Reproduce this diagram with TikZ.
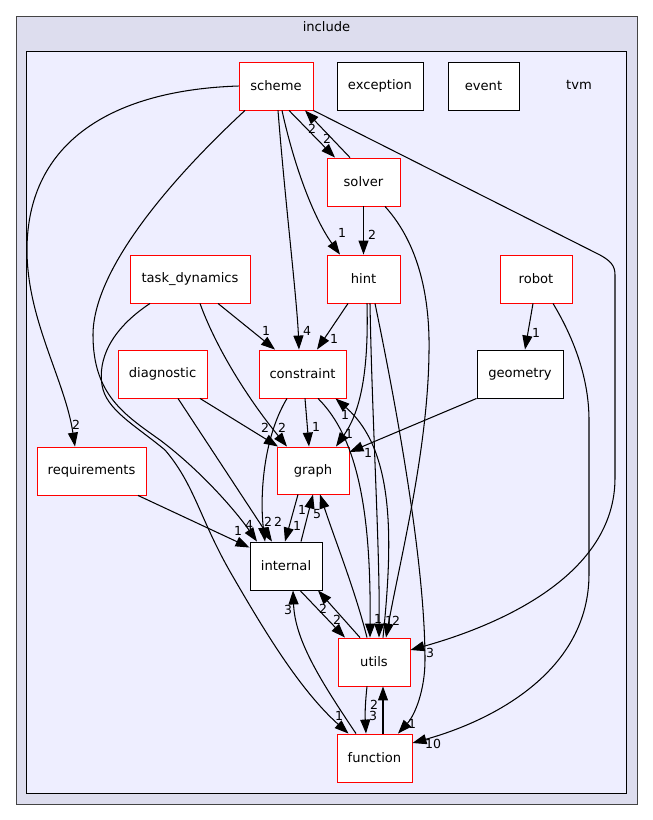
\documentclass[tikz,border=0pt]{standalone}
\usepackage{fontspec}
\setmainfont{DejaVu Sans}
\usetikzlibrary{arrows.meta}
\begin{document}
\begin{tikzpicture}[x=1pt,y=-1pt,
  box/.style={draw=red, fill=white, line width=0.9pt, minimum height=48pt,
    inner xsep=0pt, font=\fontsize{13.1}{15}\selectfont},
  plainbox/.style={box, draw=black},
  dep/.style={line width=1.05pt, -{Triangle[length=14pt,width=10pt]}},
  lbl/.style={inner sep=0pt, font=\fontsize{12.5}{13}\selectfont}]
\useasboundingbox (0,0) rectangle (653,820);

% directory frames
\draw[fill={rgb,255:red,221;green,221;blue,238}, draw={rgb,255:red,68;green,68;blue,68}, line width=1pt]
  (16,16) rectangle (637,804);
\node[font=\fontsize{13.1}{15}\selectfont] (incl) at (326.5,27) {include};
\draw[fill={rgb,255:red,238;green,238;blue,255}, draw=black, line width=1pt]
  (26,51) rectangle (626,793);
\node[font=\fontsize{13.1}{15}\selectfont] (tvm) at (579,85) {tvm};

% directories
\node[box, minimum width=74pt] (scheme) at (276,86) {scheme};
\node[plainbox, minimum width=86pt] (exception) at (380,86) {exception};
\node[plainbox, minimum width=71pt] (event) at (483.5,86) {event};
\node[box, minimum width=73pt] (solver) at (363.5,182) {solver};
\node[box, minimum width=73pt] (hint) at (363.5,279) {hint};
\node[box, minimum width=120pt] (task) at (190,279) {task\_dynamics};
\node[box, minimum width=72pt] (robot) at (536,279) {robot};
\node[box, minimum width=89pt] (diag) at (162.5,374) {diagnostic};
\node[box, minimum width=87pt] (constraint) at (302.5,374) {constraint};
\node[plainbox, minimum width=86pt] (geometry) at (520,374) {geometry};
\node[box, minimum width=109pt] (req) at (91.5,471) {requirements};
\node[box, minimum width=72pt, minimum height=47pt] (graph) at (313,470.5) {graph};
\node[plainbox, minimum width=72pt] (internal) at (286,566) {internal};
\node[box, minimum width=72pt] (utils) at (374,662) {utils};
\node[box, minimum width=75pt] (function) at (374.5,758) {function};

% dependencies
\draw[dep] (scheme.west) .. controls (115,90) and (27,140) .. (27,250)
  .. controls (27,320) and (65,380) .. ([xshift=-16.5pt]req.north);
\node[lbl] (l1) at (76,425) {2};

\draw[dep] ([xshift=-31pt]scheme.south) .. controls (170,180) and (93,270) .. (93,335)
  .. controls (93,395) and (125,415) .. (160,440)
  .. controls (200,470) and (235,510) .. ([xshift=-29pt]internal.north);
\node[lbl] (l2) at (249,525) {4};

\draw[dep] ([xshift=-40pt]task.south) .. controls (110,330) and (98,360) .. (102,385)
  .. controls (106,410) and (135,425) .. (165,450)
  .. controls (195,485) and (200,520) .. (232,575)
  .. controls (265,632) and (300,690) .. ([xshift=-26pt]function.north);
\node[lbl] (l3) at (339,716) {1};

\draw[dep] ([xshift=13pt]scheme.south) -- ([xshift=-28.5pt]solver.north);
\node[lbl] (l4) at (327,139) {2};
\draw[dep] ([xshift=-13.5pt]solver.north) -- ([xshift=29pt]scheme.south);
\node[lbl] (l5) at (312,129) {2};

\draw[dep] ([xshift=6pt]scheme.south) .. controls (295,170) and (315,220) .. ([xshift=-23.5pt]hint.north);
\node[lbl] (l6) at (342,233) {1};

\draw[dep] ([xshift=2pt]scheme.south) .. controls (285,200) and (297,300) .. ([xshift=-3.5pt]constraint.north);
\node[lbl] (l7) at (307,331) {4};

\draw[dep] (scheme.south east) -- (600,255) .. controls (611,261) and (615,266) .. (615,275)
  -- (615,478) .. controls (615,575) and (500,625) .. ([yshift=12pt]utils.east);
\node[lbl] (l8) at (430,653) {3};

\draw[dep] ([xshift=17pt]robot.south) .. controls (575,340) and (589,380) .. (589,420)
  -- (589,574) .. controls (589,670) and (495,720) .. ([yshift=15pt]function.east);
\node[lbl] (l9) at (433,744) {10};

\draw[dep] ([xshift=-3pt]robot.south) -- ([xshift=5pt]geometry.north);
\node[lbl] (l10) at (536,333) {1};

\draw[dep] (geometry.south west) -- ([yshift=18.5pt]graph.east);
\node[lbl] (l11) at (368,453) {1};

\draw[dep] ([xshift=21.5pt]solver.south) .. controls (420,245) and (430,300) .. (429,352)
  .. controls (428,450) and (400,560) .. ([xshift=12pt]utils.north);
\node[lbl] (l12) at (396,621) {2};

\draw[dep] (solver.south) -- (hint.north);
\node[lbl] (l13) at (372,235) {2};

\draw[dep] ([xshift=6.5pt]hint.south) .. controls (372,420) and (380,550) .. ([xshift=5pt]utils.north);
\node[lbl] (l14) at (389,621) {1};

\draw[dep] ([xshift=11.5pt]hint.south) .. controls (395,400) and (425,560) .. (425,660)
  .. controls (425,690) and (415,715) .. ([xshift=23.5pt]function.north);
\node[lbl] (l15) at (412,724) {1};

\draw[dep] ([xshift=9pt]utils.north) .. controls (393,540) and (395,450) .. ([xshift=33pt]constraint.south);
\node[lbl] (l16) at (345,415) {1};

\draw[dep] ([xshift=15.5pt]constraint.south) .. controls (360,440) and (371,520) .. ([xshift=-4pt]utils.north);
\node[lbl] (l17) at (378,619) {1};

\draw[dep] ([xshift=-7pt]utils.north) .. controls (355,590) and (335,540) .. ([xshift=7pt]graph.south);
\node[lbl] (l18) at (317,514) {5};

\draw[dep] ([xshift=-15pt]graph.south) -- ([xshift=-1pt]internal.north);
\node[lbl] (l19) at (297,526) {1};
\draw[dep] ([xshift=15pt]internal.north) -- (graph.south);
\node[lbl] (l20) at (302,510) {1};

\draw[dep] ([xshift=2.5pt]constraint.south) -- ([xshift=-4pt]graph.north);
\node[lbl] (l21) at (316,427) {1};

\draw[dep] ([xshift=3.5pt]hint.south) .. controls (369,380) and (358,415) .. ([xshift=23pt]graph.north);
\node[lbl] (l22) at (349,434) {1};

\draw[dep] ([xshift=-15.5pt]hint.south) -- ([xshift=14.5pt]constraint.north);
\node[lbl] (l23) at (334,339) {1};

\draw[dep] ([xshift=28pt]task.south) -- ([xshift=-27.5pt]constraint.north);
\node[lbl] (l24) at (266,331) {1};

\draw[dep] ([xshift=10pt]task.south) .. controls (215,345) and (245,395) .. ([xshift=-26pt]graph.north);
\node[lbl] (l25) at (282,428) {2};

\draw[dep] ([xshift=37.5pt]diag.south) -- ([xshift=-35pt]graph.north);
\node[lbl] (l26) at (265,428) {2};

\draw[dep] ([xshift=15.5pt]diag.south) -- ([xshift=-14pt]internal.north);
\node[lbl] (l27) at (278,522) {2};

\draw[dep] ([xshift=-15.5pt]constraint.south) .. controls (262,440) and (260,500) .. ([xshift=-21pt]internal.north);
\node[lbl] (l28) at (268,522) {2};

\draw[dep] ([xshift=46.5pt]req.south) -- ([yshift=-6pt]internal.north west);
\node[lbl] (l29) at (238,531) {1};

\draw[dep] ([xshift=14pt]internal.south) -- ([xshift=-29pt]utils.north);
\node[lbl] (l30) at (337,620) {2};
\draw[dep] ([xshift=-14pt]utils.north) -- ([xshift=32pt]internal.south);
\node[lbl] (l31) at (323,609) {2};

\draw[dep] ([xshift=-18.5pt]function.north) .. controls (320,680) and (295,640) .. ([xshift=7pt]internal.south);
\node[lbl] (l32) at (288,610) {3};

\draw[dep] ([xshift=-7pt]utils.south) .. controls (365,705) and (365,715) .. ([xshift=-8.5pt]function.north);
\node[lbl] (l33) at (373,716) {3};
\draw[dep] ([xshift=8.5pt]function.north) -- ([xshift=9pt]utils.south);
\node[lbl] (l34) at (374,705) {2};
\end{tikzpicture}
\end{document}
